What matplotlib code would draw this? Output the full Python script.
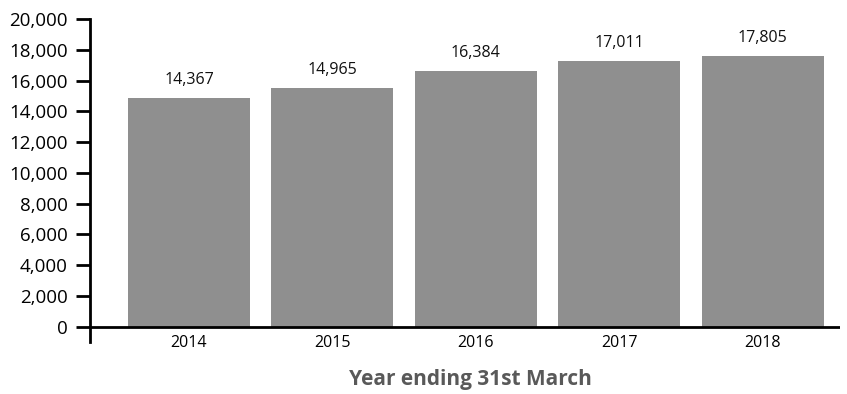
import matplotlib
matplotlib.use("Agg")
import matplotlib.pyplot as plt
from matplotlib.ticker import FuncFormatter

years = ["2014", "2015", "2016", "2017", "2018"]
label_values = [14367, 14965, 16384, 17011, 17805]
bar_heights = [14870, 15520, 16640, 17270, 17620]
yticks = [0, 2000, 4000, 6000, 8000, 10000, 12000, 14000, 16000, 18000, 20000]
xlabel = "Year ending 31st March"

plt.rcParams['font.family'] = ['Open Sans', 'DejaVu Sans']

fig = plt.figure(figsize=(8.47, 3.94), dpi=100)
ax = fig.add_axes([90/847, 1-342/394, (840-90)/847, (342-19)/394])

x = list(range(len(years)))
bars = ax.bar(x, bar_heights, width=0.85, color="#8f8f8f", zorder=2)
for xi, h, v in zip(x, bar_heights, label_values):
    ax.text(xi, h + 650, f"{v:,}", ha="center", va="bottom", fontsize=11.5, color="#111111")

ax.set_xlim(-0.69, 4.54)
ax.set_ylim(-1000, 20000)
ax.set_yticks(yticks)
ax.yaxis.set_major_formatter(FuncFormatter(lambda v, p: f"{int(v):,}"))
ax.set_xticks(x)
ax.set_xticklabels(years)
ax.tick_params(axis="y", length=10, width=2, labelsize=13.5, pad=6, colors="black")
ax.tick_params(axis="x", length=0, labelsize=11.5, pad=-5)

for s in ["top", "right", "bottom"]:
    ax.spines[s].set_visible(False)
ax.spines["left"].set_linewidth(2)
ax.spines["left"].set_bounds(-1000, 20000)
ax.axhline(0, color="black", lw=2, zorder=3)

fig.text(470/847, 1-379/394, xlabel, ha="center", va="center", fontsize=15,
         fontweight="bold", color="#595959")

fig.savefig("out.png", dpi=100)
